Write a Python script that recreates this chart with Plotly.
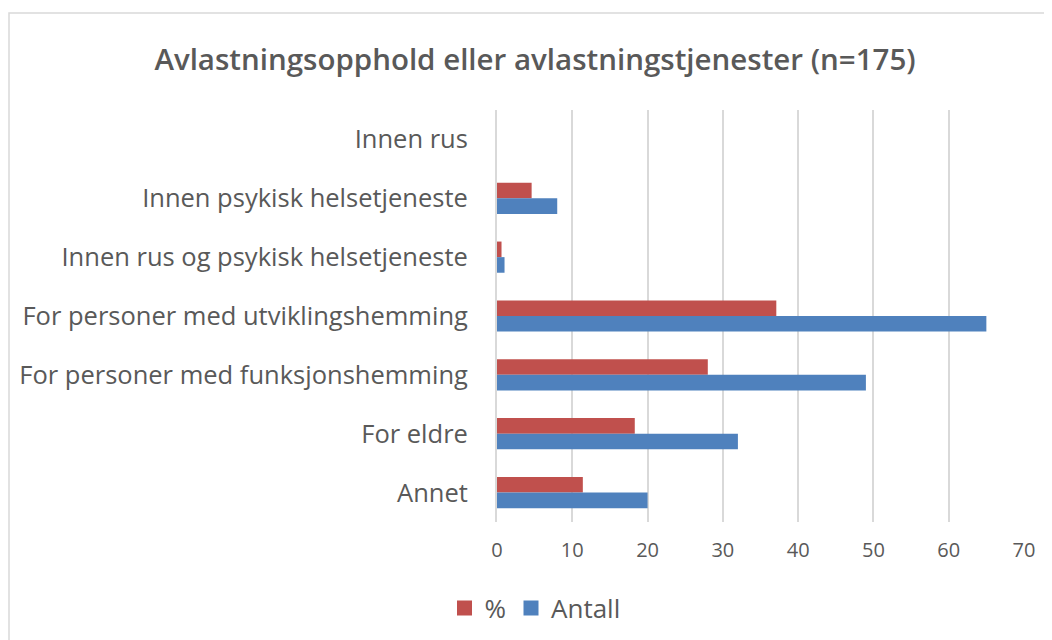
import plotly.graph_objects as go

categories = [
    "Innen rus",
    "Innen psykisk helsetjeneste",
    "Innen rus og psykisk helsetjeneste",
    "For personer med utviklingshemming",
    "For personer med funksjonshemming",
    "For eldre",
    "Annet",
]
prosent = [0.0, 4.6, 0.6, 37.1, 28.0, 18.3, 11.4]
antall = [0, 8, 1, 65, 49, 32, 20]
x_ticks = [0, 10, 20, 30, 40, 50, 60, 70]
title_text = "Avlastningsopphold eller avlastningstjenester (n=175)"
series_names = ["%", "Antall"]
series_colors = ["#C0504D", "#4F81BD"]

OFF = 8  # default page body margin
W, H = 1052 - OFF, 640 - OFF
ML = 497 - OFF
PR = 1024 - OFF
MT = 110 - OFF
PB = 522 - OFF
MR = W - PR
MB = H - PB
PW = W - ML - MR
PH = H - MT - MB

def px_x(px):
    return (px - OFF - ML) / PW

def px_y(py):
    return (PB - (py - OFF)) / PH

fig = go.Figure()
for name, vals, col in zip(series_names, [prosent, antall], series_colors):
    fig.add_trace(go.Bar(
        y=categories, x=vals, name=name, orientation="h",
        marker=dict(color=col, line=dict(width=0)), showlegend=False,
    ))
# legend entries with larger square swatches
for name, col in zip(series_names, series_colors):
    fig.add_trace(go.Scatter(
        x=[None], y=[None], mode="markers", name=name,
        marker=dict(symbol="square", size=15, color=col), showlegend=True,
    ))

fig.update_layout(
    width=W, height=H,
    margin=dict(l=ML, r=MR, t=MT, b=MB, autoexpand=False),
    paper_bgcolor="white", plot_bgcolor="white",
    barmode="group", bargap=0.47, bargroupgap=0,
    font=dict(family="Open Sans, sans-serif", color="#595959"),
    title=dict(text=title_text, x=(535 - OFF) / W, xref="container",
               xanchor="center", y=1 - (60 - OFF) / H, yanchor="middle",
               font=dict(family="Open Sans, sans-serif", size=29.5, color="#595959", weight=600)),
    legend=dict(orientation="h", x=px_x(535), xanchor="center",
                y=px_y(608), yanchor="middle",
                font=dict(size=26, color="#595959"), traceorder="normal",
                itemwidth=30),
    showlegend=True,
)
fig.update_xaxes(
    range=[0, 70], tickvals=x_ticks, ticktext=[str(v) for v in x_ticks],
    showgrid=True, gridcolor="#D9D9D9", gridwidth=2,
    zeroline=False, showline=False, automargin=False,
    tickfont=dict(size=20, color="#595959"), ticks="", ticklabelstandoff=14,
)
fig.update_yaxes(
    autorange="reversed", type="category", automargin=False,
    showgrid=False, showline=True, linecolor="#D9D9D9", linewidth=2,
    tickfont=dict(size=25.5, color="#595959"), ticks="", ticklabelstandoff=22,
)
fig.add_shape(type="rect", xref="paper", yref="paper",
              x0=px_x(9), x1=px_x(1075), y0=px_y(680), y1=px_y(13),
              line=dict(color="#D9D9D9", width=1.5), fillcolor="rgba(0,0,0,0)",
              layer="below")

fig.write_html("out.html")
